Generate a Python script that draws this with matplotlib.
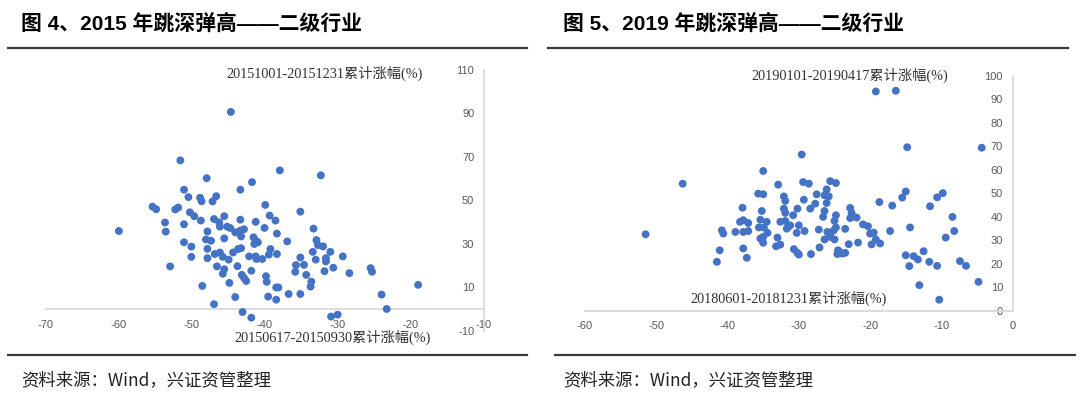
import matplotlib
matplotlib.use('Agg')
import matplotlib.pyplot as plt
from matplotlib.lines import Line2D

plt.rcParams['font.family'] = ['Liberation Sans', 'Noto Sans CJK SC', 'DejaVu Sans']

# ---------------- data: figure 4 (2015) ----------------
x2015 = [-51.5, -37.9, -32.3, -47.9, -41.7, -51.0, -43.3, -50.4, -48.8, -48.6,
         -46.6, -47.1, -55.3, -54.8, -52.2, -51.8, -39.9, -35.1, -50.2, -49.6,
         -39.3, -45.5, -53.6, -53.5, -51.0, -48.7, -46.9, -46.2, -46.1, -45.1,
         -44.7, -43.3, -41.2, -38.5, -40.0, -47.8, -44.0, -43.3, -42.8, -43.2,
         -45.5, -48.0, -47.3, -41.5, -41.2, -40.9, -41.4, -38.3, -36.9, -33.3,
         -32.9, -32.7, -32.0, -33.4, -31.0, -51.0, -50.0, -50.0, -47.8, -47.8,
         -46.8, -46.1, -45.7, -44.9, -44.3, -43.6, -43.2, -42.1, -41.2, -41.1,
         -40.3, -39.2, -39.4, -38.3, -35.1, -35.7, -35.8, -34.6, -33.0, -31.6,
         -31.6, -29.3, -30.6, -31.8, -34.3, -33.6, -33.7, -35.1, -36.7, -28.4,
         -25.5, -25.3, -24.0, -23.3, -52.9, -48.5, -46.9, -46.5, -45.5, -45.7,
         -44.8, -43.7, -43.1, -42.8, -42.5, -44.0, -43.0, -41.8, -41.8, -39.8,
         -39.7, -39.5, -38.4, -38.1, -38.4, -30.9, -30.0, -44.6, -59.9, -19.0]
y2015 = [68.4, 63.8, 61.5, 60.2, 58.4, 54.9, 54.9, 51.5, 51.2, 49.6,
         51.9, 49.5, 47.1, 45.9, 45.8, 46.7, 47.9, 44.8, 44.5, 42.7,
         43.0, 42.7, 39.8, 35.6, 39.0, 40.7, 41.4, 39.9, 37.9, 37.9,
         37.3, 41.1, 40.1, 40.7, 37.3, 35.7, 35.3, 36.1, 36.7, 33.4,
         32.5, 32.0, 31.4, 33.0, 31.4, 30.7, 29.9, 34.7, 31.1, 37.0,
         31.7, 29.4, 28.8, 26.3, 26.3, 30.7, 28.7, 24.0, 27.7, 23.4,
         25.3, 26.0, 24.0, 22.7, 26.0, 27.6, 28.0, 24.2, 24.2, 23.0,
         23.0, 27.6, 25.0, 25.3, 23.7, 20.2, 17.1, 20.3, 22.7, 23.4,
         21.9, 24.2, 19.0, 17.4, 15.7, 12.6, 10.3, 6.9, 6.9, 16.5,
         18.8, 17.1, 6.6, 0.0, 19.6, 10.6, 2.2, 19.6, 18.3, 16.2,
         12.0, 19.7, 15.7, 14.3, 12.9, 5.5, -1.4, -4.0, 17.6, 15.1,
         12.5, 5.7, 9.9, 9.9, 4.3, -3.5, -2.6, 90.7, 35.9, 11.1]

xticks2015 = [-70, -60, -50, -40, -30, -20, -10]
yticks2015 = [-10, 10, 30, 50, 70, 90, 110]

# ---------------- data: figure 5 (2019) ----------------
x2019 = [-46.3, -51.5, -29.6, -14.8, -4.35, -19.2, -16.4, -35.0, -32.9, -29.4,
         -28.6, -25.6, -24.8, -35.7, -35.0, -32.1, -31.9, -29.3, -27.5, -26.1,
         -26.4, -25.8, -26.1, -27.7, -28.4, -37.9, -35.2, -32.1, -31.9, -30.2,
         -30.8, -26.4, -26.6, -24.8, -25.0, -22.8, -22.6, -22.8, -21.9, -21.0,
         -20.3, -20.0, -19.5, -19.8, -19.2, -18.6, -18.7, -16.9, -15.5, -15.0,
         -11.6, -17.2, -14.4, -15.0, -14.5, -13.9, -13.3, -12.5, -11.7, -9.8,
         -10.6, -8.45, -8.2, -9.4, -7.4, -6.55, -10.6, -4.8, -10.3, -13.1,
         -38.25, -37.8, -37.1, -40.8, -40.6, -38.9, -37.8, -37.1, -35.4, -34.5,
         -35.6, -34.9, -34.4, -35.4, -35.0, -35.0, -32.6, -31.9, -31.2, -31.7,
         -31.5, -30.0, -30.3, -29.2, -33.0, -33.2, -32.6, -30.7, -30.0, -30.2,
         -28.3, -27.1, -27.2, -26.0, -25.6, -25.1, -24.8, -26.4, -25.7, -25.0,
         -23.5, -23.0, -21.7, -24.5, -23.9, -24.3, -23.5, -24.6, -41.1, -41.5,
         -37.8, -37.3]
y2019 = [54.1, 32.6, 66.5, 69.6, 69.4, 93.3, 93.6, 59.5, 53.7, 54.8,
         54.1, 55.2, 54.4, 49.9, 49.6, 48.7, 46.8, 47.3, 49.6, 51.7,
         49.2, 48.7, 45.9, 45.6, 43.5, 43.9, 42.5, 43.5, 41.7, 43.5,
         40.7, 42.5, 40.0, 40.7, 38.3, 43.8, 41.7, 39.5, 39.7, 36.8,
         36.0, 32.9, 33.3, 28.3, 30.4, 28.7, 46.3, 44.8, 48.2, 50.8,
         44.5, 34.0, 35.5, 23.7, 19.1, 23.3, 21.9, 25.4, 20.9, 50.1,
         48.3, 40.0, 34.0, 31.2, 21.2, 19.2, 19.2, 12.4, 4.8, 11.0,
         37.9, 38.6, 37.4, 34.3, 32.9, 33.6, 33.6, 34.0, 38.8, 37.9,
         35.5, 35.5, 33.2, 30.8, 31.5, 29.0, 37.9, 38.3, 36.4, 35.0,
         35.7, 36.4, 33.2, 34.0, 31.2, 27.5, 28.2, 26.3, 24.0, 24.7,
         24.2, 27.0, 34.6, 33.6, 32.6, 34.3, 35.5, 30.4, 31.5, 30.4,
         34.9, 28.4, 29.1, 25.8, 24.4, 25.1, 24.7, 24.2, 25.8, 20.9,
         26.6, 22.6]

xticks2019 = [-60, -50, -40, -30, -20, -10, 0]
yticks2019 = [0, 10, 20, 30, 40, 50, 60, 70, 80, 90, 100]

title_left = '图 4、2015 年跳深弹高——二级行业'
title_right = '图 5、2019 年跳深弹高——二级行业'
ylabel_left = '20151001-20151231累计涨幅(%)'
xlabel_left = '20150617-20150930累计涨幅(%)'
ylabel_right = '20190101-20190417累计涨幅(%)'
xlabel_right = '20180601-20181231累计涨幅(%)'
source = '资料来源：Wind，兴证资管整理'

BLUE = '#4472C4'
AXC = '#D9D9D9'
TICKC = '#595959'
serif = ['Liberation Serif', 'Noto Sans CJK SC']

fig = plt.figure(figsize=(10.8, 3.99), dpi=100)

# ---------------- left panel ----------------
ax1 = fig.add_axes([45 / 1080, 1 - 330.7 / 399, 439 / 1080, 260.7 / 399])
ax1.scatter(x2015, y2015, s=32, color=BLUE, edgecolors='none', zorder=3, clip_on=False)
ax1.set_xlim(-70, -10)
ax1.set_ylim(-10, 110)
for s in ['top', 'right', 'bottom']:
    ax1.spines[s].set_visible(False)
ax1.spines['left'].set_position(('data', -10))
ax1.spines['left'].set_color(AXC)
ax1.spines['left'].set_linewidth(1.3)
ax1.axhline(0, color=AXC, lw=1.3, zorder=1)
ax1.set_xticks(xticks2015)
ax1.set_yticks(yticks2015)
ax1.set_xticklabels([str(v) for v in xticks2015])
ax1.set_yticklabels([str(v) for v in yticks2015])
ax1.tick_params(axis='x', length=0, pad=-8, labelsize=8, labelcolor=TICKC)
ax1.tick_params(axis='y', length=0, pad=7, labelsize=8, labelcolor=TICKC)
ax1.patch.set_alpha(0)
ax1.text(0.636, 0.988, ylabel_left, transform=ax1.transAxes, ha='center', va='center',
         fontsize=10.3, family=serif, color='#333333')
ax1.text(0.656, -0.026, xlabel_left, transform=ax1.transAxes, ha='center', va='center',
         fontsize=10.3, family=serif, color='#333333')

# ---------------- right panel ----------------
ax2 = fig.add_axes([585 / 1080, 1 - 311 / 399, 427.7 / 1080, 235.3 / 399])
ax2.scatter(x2019, y2019, s=32, color=BLUE, edgecolors='none', zorder=3, clip_on=False)
ax2.set_xlim(-60, 0)
ax2.set_ylim(0, 100)
for s in ['top', 'right']:
    ax2.spines[s].set_visible(False)
ax2.spines['left'].set_position(('data', 0))
for s in ['left', 'bottom']:
    ax2.spines[s].set_color(AXC)
    ax2.spines[s].set_linewidth(1.3)
ax2.set_xticks(xticks2019)
ax2.set_yticks(yticks2019)
ax2.set_xticklabels([str(v) for v in xticks2019])
ax2.set_yticklabels([str(v) for v in yticks2019])
ax2.tick_params(axis='x', length=0, pad=7.5, labelsize=8, labelcolor=TICKC)
ax2.tick_params(axis='y', length=0, pad=7, labelsize=8, labelcolor=TICKC)
ax2.patch.set_alpha(0)
ax2.text(0.62, 1.0, ylabel_right, transform=ax2.transAxes, ha='center', va='center',
         fontsize=10.3, family=serif, color='#333333')
ax2.text(0.477, 0.055, xlabel_right, transform=ax2.transAxes, ha='center', va='center',
         fontsize=10.3, family=serif, color='#333333')

# ---------------- titles, rules, sources ----------------
tfam = ['Liberation Sans', 'Noto Sans CJK SC']
fig.text(21 / 1080, 1 - 24 / 399, title_left, ha='left', va='center', fontsize=15,
         fontweight='bold', family=tfam, color='black')
fig.text(563 / 1080, 1 - 24 / 399, title_right, ha='left', va='center', fontsize=15,
         fontweight='bold', family=tfam, color='black')

for (x0, x1) in [(8, 527), (548, 1068)]:
    fig.add_artist(Line2D([x0 / 1080, x1 / 1080], [1 - 47.5 / 399] * 2,
                          transform=fig.transFigure, color='#3a3a3a', lw=1.6))
for (x0, x1) in [(8, 527), (555, 1075)]:
    fig.add_artist(Line2D([x0 / 1080, x1 / 1080], [1 - 355 / 399] * 2,
                          transform=fig.transFigure, color='#3a3a3a', lw=1.6))

fig.text(21 / 1080, 1 - 380 / 399, source, ha='left', va='center', fontsize=12.5,
         family=['Noto Sans CJK SC'], color='#222222')
fig.text(563 / 1080, 1 - 380 / 399, source, ha='left', va='center', fontsize=12.5,
         family=['Noto Sans CJK SC'], color='#222222')

fig.savefig('out.png', dpi=100, facecolor='white')
